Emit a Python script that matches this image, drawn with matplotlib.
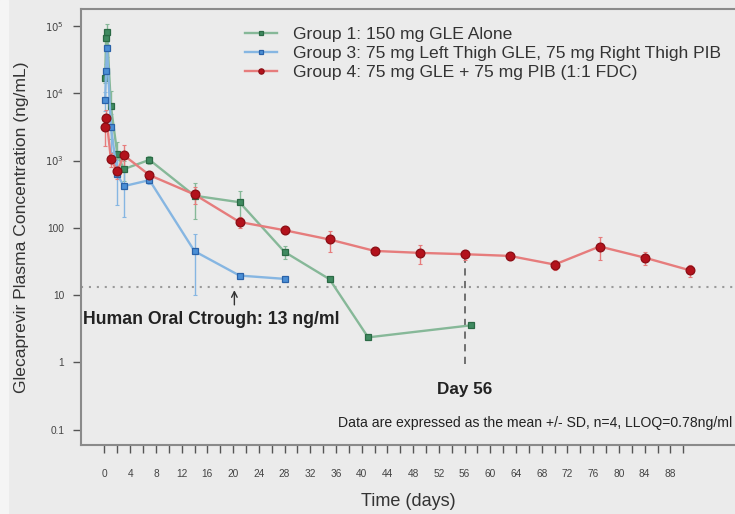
import numpy as np
import matplotlib
matplotlib.use("Agg")
import matplotlib.pyplot as plt
from matplotlib.patches import Rectangle

plt.rcParams['font.family'] = ['Liberation Sans', 'DejaVu Sans']

# Group 1: 150 mg GLE alone
g1_days = [0.1, 0.25, 0.4, 1, 2, 3, 7, 14, 21, 28, 35, 41, 57]
g1_conc = [17000, 65600, 80600, 6400, 1245, 745, 1024, 300, 240, 43.8, 17.2, 2.35, 3.55]
g1_sd = [3000, 15000, 26000, 4300, 650, 250, 150, 165, 110, 10, 0, 0, 0]

# Group 3: 75 mg left thigh GLE, 75 mg right thigh PIB
g3_days = [0.1, 0.25, 0.4, 1, 2, 3, 7, 14, 21, 28]
g3_conc = [8000, 21600, 46600, 3140, 621, 416, 511, 44.9, 19.5, 17.4]
g3_sd = [2500, 6000, 12000, 1800, 400, 270, 60, 35, 0, 0]

# Group 4: 75 mg GLE + 75 mg PIB (1:1 FDC)
g4_days = [0.1, 0.3, 1, 2, 3, 7, 14, 21, 28, 35, 42, 49, 56, 63, 70, 77, 84, 91]
g4_conc = [3140, 4310, 1050, 689, 1200, 607, 313, 122, 92, 67, 45.3, 42.4, 40.5, 38.2, 28.4, 52.7, 36, 23.4]
g4_sd = [1500, 1300, 250, 150, 480, 90, 90, 22, 12, 24, 4, 13, 7, 5, 5, 20, 8, 5]

labels = [
    "Group 1: 150 mg GLE Alone",
    "Group 3: 75 mg Left Thigh GLE, 75 mg Right Thigh PIB",
    "Group 4: 75 mg GLE + 75 mg PIB (1:1 FDC)",
]

y_ticks = [0.1, 1, 10, 100, 1000, 10000, 100000]
y_tick_labels = ["0.1", "1", "10", "100", r"$10^3$", r"$10^4$", r"$10^5$"]

ctrough = 13
day_mark = 56

BG = "#ebebeb"


def draw_group(ax, days, conc, sd, label, line_color, face, edge, marker, ms):
    days = np.array(days, dtype=float)
    conc = np.array(conc, dtype=float)
    sd = np.array(sd, dtype=float)
    lower = np.minimum(sd, conc * 0.8)
    ax.errorbar(days, conc, yerr=[lower, sd], fmt='none', ecolor=line_color,
                elinewidth=1.0, capsize=1.5, capthick=0.8, zorder=2)
    ax.plot(days, conc, color=line_color, lw=1.7, marker=marker, ms=ms,
            mfc=face, mec=edge, mew=0.9, label=label, zorder=3)


def main():
    fig = plt.figure(figsize=(7.35, 5.14), dpi=100, facecolor=BG)
    fig.patches.append(Rectangle((0, 0), 8 / 735, 1, transform=fig.transFigure,
                                 color="#f5f5f5", zorder=-1))
    ax = fig.add_axes([81 / 735, 1 - 445 / 514, (735 - 81) / 735, (445 - 9) / 514])
    ax.set_facecolor(BG)

    draw_group(ax, g1_days, g1_conc, g1_sd, labels[0], "#86b898", "#3f8a60", "#2b6a45", "s", 5)
    draw_group(ax, g3_days, g3_conc, g3_sd, labels[1], "#86b6e2", "#4b8fd6", "#2a62a8", "s", 5)
    draw_group(ax, g4_days, g4_conc, g4_sd, labels[2], "#e67c7c", "#b3121c", "#8a0d14", "o", 6.3)

    ax.set_yscale("log")
    ax.set_ylim(0.059, 1.79e5)
    ax.set_xlim(-3.65, 98.05)

    # reference line for the oral trough level
    ax.axhline(ctrough, color="#9a9a9a", lw=1.5, linestyle=(0, (1, 2.8)), zorder=1)
    ax.annotate("", xy=(20.2, ctrough), xytext=(20.2, 6.5),
                arrowprops=dict(arrowstyle="->", color="#333333", lw=1.0))
    ax.text(-3.35, 4.4, "Human Oral Ctrough: 13 ng/ml", fontsize=12.7,
            fontweight="bold", color="#222222", va="center", ha="left")

    # day 56 marker
    ax.plot([day_mark, day_mark], [0.95, 40.5], color="#666666", lw=1.3,
            linestyle=(0, (4, 3)), zorder=1)
    ax.text(day_mark, 0.4, "Day 56", fontsize=12.3, fontweight="bold",
            color="#222222", ha="center", va="center")

    ax.text(97.6, 0.127, "Data are expressed as the mean +/- SD, n=4, LLOQ=0.78ng/ml",
            fontsize=10.1, color="#222222", ha="right", va="center")

    ax.set_yticks(y_ticks)
    ax.set_yticklabels(y_tick_labels)
    ax.yaxis.set_minor_locator(matplotlib.ticker.NullLocator())
    x_ticks = np.arange(0, 91, 2)
    ax.set_xticks(x_ticks)
    ax.set_xticklabels([str(t) if t % 4 == 0 and t <= 88 else "" for t in x_ticks])

    ax.tick_params(axis="x", length=6, width=1.0, color="#555555", pad=11,
                   labelsize=7.3, labelcolor="#444444")
    ax.tick_params(axis="y", length=6, width=1.0, color="#555555", pad=6,
                   labelsize=7.3, labelcolor="#444444")

    for side in ["left", "bottom", "top"]:
        ax.spines[side].set_color("#8a8a8a")
        ax.spines[side].set_linewidth(1.5)
    ax.spines["right"].set_visible(False)

    ax.set_xlabel("Time (days)", fontsize=13, color="#333333", labelpad=10)
    ax.set_ylabel("Glecaprevir Plasma Concentration (ng/mL)", fontsize=12.6,
                  color="#333333", labelpad=12)

    leg = ax.legend(loc="upper left", bbox_to_anchor=((238 - 81) / 654, 1 - 11 / 436),
                    frameon=False, fontsize=12.6, handlelength=1.8, handletextpad=0.95,
                    labelspacing=0.2, markerscale=0.6, borderaxespad=0)
    for t in leg.get_texts():
        t.set_color("#333333")

    fig.savefig("out.png", dpi=100, facecolor=BG)


if __name__ == "__main__":
    main()
